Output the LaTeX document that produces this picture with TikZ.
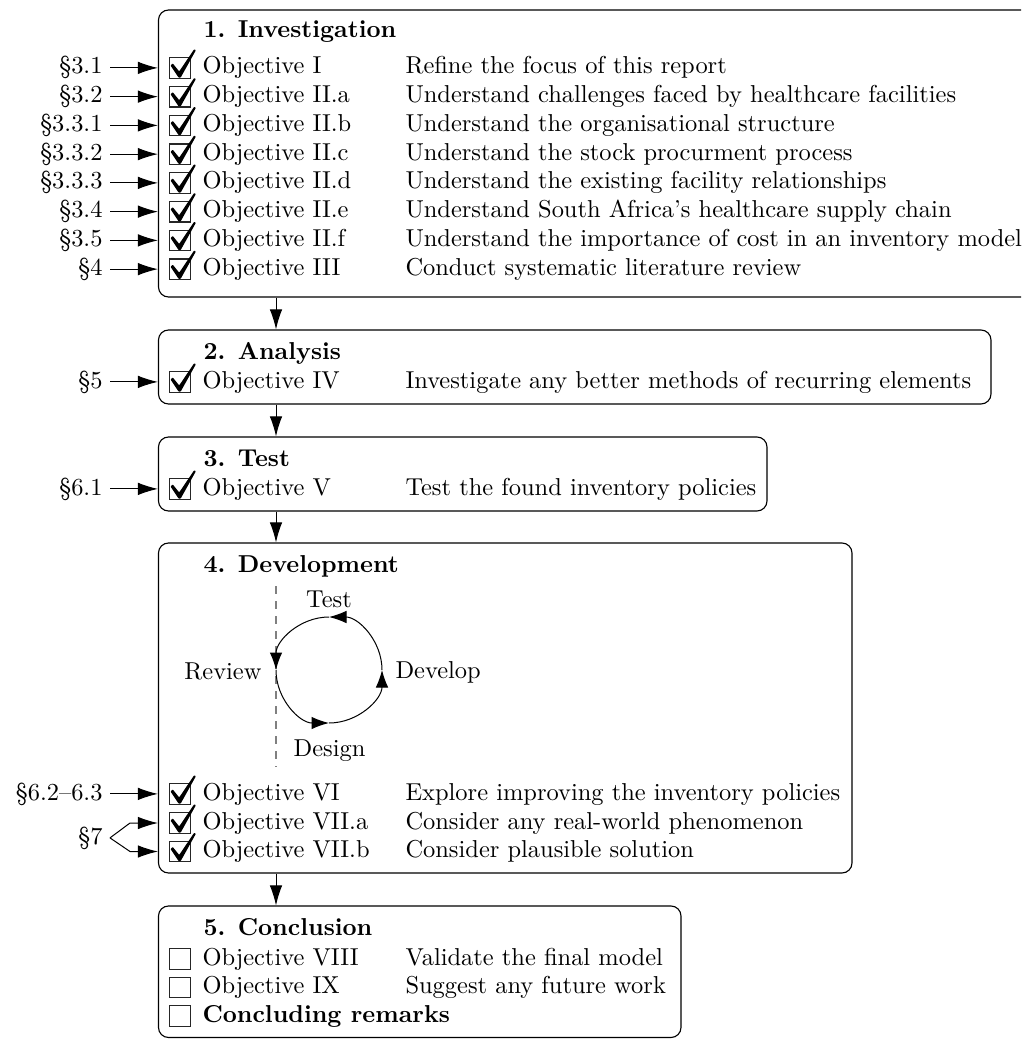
\documentclass[tikz,border=0pt]{standalone}
\usetikzlibrary{arrows.meta,fit}

% a check mark drawn over a checkbox node
\newcommand\ticked[1]{%
  \fill[shift={(#1.center)}, rounded corners=0.3pt]
    (-9.5,2.5) -- (-7.3,4.6) -- (-0.8,-3.4) -- (14.2,18.8) -- (15.9,17.8)
    -- (0.6,-9.7) -- (-1.3,-9.7) -- cycle;}

% one objective row: name, baseline, description x, objective, description
\newcommand\objrow[5]{%
  \node[cbox] (c#1) at (180,{-(#2)+6}) {};
  \node[txt] (o#1) at (202,{-(#2)}) {#4};
  \node[txt] (d#1) at (#3,{-(#2)}) {#5};}

% section reference pointing at a row: name, baseline, section, phase box
\newcommand\secref[4]{%
  \node[sec] (s#1) at (110,{-(#2)}) {\S#3};
  \draw[arr] (s#1.east) -- (#4.west |- s#1.east);}

\begin{document}
\begin{tikzpicture}[x=0.4pt,y=0.4pt,
  every node/.style={font=\fontsize{9.78pt}{11.8pt}\selectfont},
  phase/.style={draw, rounded corners=4pt, inner sep=0pt, line width=0.45pt},
  txt/.style={anchor=base west, inner sep=0pt},
  ttl/.style={anchor=base west, inner sep=0pt,
    font=\fontsize{9.78pt}{11.8pt}\selectfont\bfseries},
  sec/.style={anchor=base east, inner xsep=2.8pt, inner ysep=0pt},
  cbox/.style={draw, black!85, minimum width=8.6pt, minimum height=8.2pt,
    inner sep=0pt, line width=0.45pt},
  arr/.style={-{Latex[length=8pt,width=5pt]}},
  cyc/.style={-{Latex[length=7pt,width=5pt]}},
]
\useasboundingbox (0,0) rectangle (1021,-1039);
\clip (0,0) rectangle (1021,-1039);

% phase boxes
\node[phase, fit={(158.5,-10) (1045,-297)}] (b1) {};
\node[phase, fit={(158.5,-330) (991,-404)}] (b2) {};
\node[phase, fit={(158.5,-437) (767,-511)}] (b3) {};
\node[phase, fit={(158.5,-543) (852,-873)}] (b4) {};
\node[phase, fit={(158.5,-906) (681,-1037.5)}] (b5) {};

% flow between phases
\coordinate (spine) at (276,0);
\draw[arr] (b1.south -| spine) -- (b2.north -| spine);
\draw[arr] (b2.south -| spine) -- (b3.north -| spine);
\draw[arr] (b3.south -| spine) -- (b4.north -| spine);
\draw[arr] (b4.south -| spine) -- (b5.north -| spine);

% 1. Investigation
\node[ttl] (t1) at (203,-38) {1. Investigation};
\foreach \sref/\obj/\desc [count=\i] in {
  3.1/Objective I/Refine the focus of this report,
  3.2/Objective II.a/Understand challenges faced by healthcare facilities,
  3.3.1/Objective II.b/Understand the organisational structure,
  3.3.2/Objective II.c/Understand the stock procurment process,
  3.3.3/Objective II.d/Understand the existing facility relationships,
  3.4/Objective II.e/Understand South Africa's healthcare supply chain,
  3.5/Objective II.f/Understand the importance of cost in an inventory model,
  4/Objective III/Conduct systematic literature review}{
  \pgfmathsetmacro\bl{74+28.75*(\i-1)}
  \objrow{r\i}{\bl}{405}{\obj}{\desc}
  \ticked{cr\i}
  \secref{r\i}{\bl}{\sref}{b1}
}

% 2. Analysis
\node[ttl] (t2) at (203,-359) {2. Analysis};
\objrow{iv}{388}{405}{Objective IV}{Investigate any better methods of recurring elements}
\ticked{civ}
\secref{iv}{388}{5}{b2}

% 3. Test
\node[ttl] (t3) at (203,-466) {3. Test};
\objrow{v}{495}{405}{Objective V}{Test the found inventory policies}
\ticked{cv}
\secref{v}{495}{6.1}{b3}

% 4. Development
\node[ttl] (t4) at (203,-572) {4. Development};
\coordinate (cc) at (329,-670);
\draw[dashed, gray, line width=0.5pt] (276,-586) -- (276,-767);
\draw[cyc] ([shift={(270:21.2pt)}]cc) arc[start angle=270, end angle=360, radius=21.2pt];
\draw[cyc] ([shift={(0:21.2pt)}]cc) arc[start angle=0, end angle=90, radius=21.2pt];
\draw[cyc] ([shift={(90:21.2pt)}]cc) arc[start angle=90, end angle=180, radius=21.2pt];
\draw[cyc] ([shift={(180:21.2pt)}]cc) arc[start angle=180, end angle=270, radius=21.2pt];
\node[anchor=base, inner sep=0pt] (lt) at (329,-607) {Test};
\node[anchor=base east, inner sep=0pt] (lr) at (262,-679) {Review};
\node[anchor=base west, inner sep=0pt] (ld) at (395,-678) {Develop};
\node[anchor=base, inner sep=0pt] (lg) at (329.5,-756) {Design};

\objrow{vi}{800}{405}{Objective VI}{Explore improving the inventory policies}
\ticked{cvi}
\secref{vi}{800}{6.2--6.3}{b4}
\objrow{viia}{829}{405}{Objective VII.a}{Consider any real-world phenomenon}
\ticked{cviia}
\objrow{viib}{857.5}{405}{Objective VII.b}{Consider plausible solution}
\ticked{cviib}
\node[sec] (s7) at (110,-844) {\S7};
\draw[arr] (s7.east) -- ([xshift=8pt]s7.east |- cviia) -- (b4.west |- cviia);
\draw[arr] (s7.east) -- ([xshift=8pt]s7.east |- cviib) -- (b4.west |- cviib);

% 5. Conclusion
\node[ttl] (t5) at (203,-935) {5. Conclusion};
\objrow{viii}{965}{405}{Objective VIII}{Validate the final model}
\objrow{ix}{993.5}{405}{Objective IX}{Suggest any future work}
\node[cbox] (cfin) at (180,-1016) {};
\node[txt, font=\fontsize{9.78pt}{11.8pt}\selectfont\bfseries] (ofin) at (202,-1022) {Concluding remarks};
\end{tikzpicture}
\end{document}
